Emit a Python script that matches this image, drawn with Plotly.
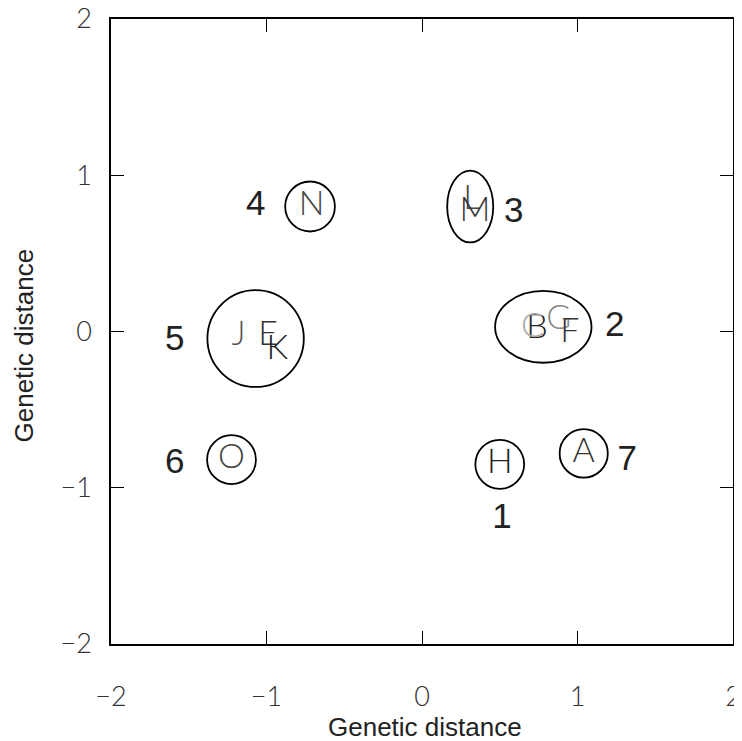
import plotly.graph_objects as go

# individuals (letters) in genetic-distance space
letters = ["J", "E", "K", "N", "L", "M", "B", "C", "G", "F", "H", "A", "O"]
letter_x = [-1.18, -0.99, -0.93, -0.71, 0.32, 0.34, 0.74, 0.71, 0.88, 0.95, 0.50, 1.04, -1.225]
letter_y = [-0.03, -0.03, -0.12, 0.80, 0.84, 0.76, 0.01, 0.02, 0.07, -0.01, -0.85, -0.78, -0.82]
letter_color = ["#555", "#333", "#222", "#444", "#444", "#333", "#222", "#aaa", "#888", "#333", "#222", "#333", "#444"]

# group ellipses: centre and radii
group_cx = [-1.07, -0.72, 0.31, 0.78, 0.50, 1.04, -1.225]
group_cy = [-0.045, 0.80, 0.80, 0.03, -0.85, -0.78, -0.82]
group_rx = [0.31, 0.16, 0.148, 0.31, 0.157, 0.155, 0.157]
group_ry = [0.31, 0.16, 0.23, 0.23, 0.157, 0.155, 0.157]

# group number labels
group_labels = ["5", "4", "3", "2", "1", "7", "6"]
label_x = [-1.59, -1.07, 0.59, 1.24, 0.515, 1.32, -1.59]
label_y = [-0.06, 0.80, 0.76, 0.03, -1.20, -0.83, -0.85]

tick_vals = [-2, -1, 0, 1, 2]
axis_title = "Genetic distance"

fig = go.Figure()

fig.add_trace(go.Scatter(
    x=letter_x, y=letter_y, mode="text", text=letters,
    textfont=dict(family="Lato", size=34, weight=300, color=letter_color),
    hoverinfo="skip", showlegend=False))

fig.add_trace(go.Scatter(
    x=label_x, y=label_y, mode="text", text=group_labels,
    textfont=dict(family="Liberation Sans, Arial", size=35, color="#222"),
    hoverinfo="skip", showlegend=False))

for cx, cy, rx, ry in zip(group_cx, group_cy, group_rx, group_ry):
    fig.add_shape(type="circle", xref="x", yref="y",
                  x0=cx - rx, x1=cx + rx, y0=cy - ry, y1=cy + ry,
                  line=dict(color="black", width=1.8))

axis_common = dict(
    range=[-2, 2], tickvals=tick_vals, ticks="inside", ticklen=13, tickwidth=1.2,
    tickcolor="black", showline=True, linecolor="black", linewidth=1.5, mirror="ticks",
    showgrid=False, zeroline=False, automargin=False, ticklabeloverflow="allow",
    tickfont=dict(family="Lato", size=27, weight=300, color="#333"),
)

fig.update_xaxes(**axis_common, ticklabelstandoff=28)
fig.update_yaxes(**axis_common, ticklabelstandoff=12)

title_font = dict(family="Liberation Sans, Arial", size=26, color="#222")
fig.add_annotation(text=axis_title, xref="paper", yref="paper", x=0.5, y=0,
                   xanchor="center", yanchor="middle", xshift=3, yshift=-83,
                   showarrow=False, font=title_font)
fig.add_annotation(text=axis_title, xref="paper", yref="paper", x=0, y=0.5,
                   xanchor="center", yanchor="middle", xshift=-88, yshift=-14,
                   textangle=-90, showarrow=False, font=title_font)

fig.update_layout(
    width=734, height=733,
    margin=dict(l=103, r=9, t=11, b=97),
    plot_bgcolor="white", paper_bgcolor="white",
)

fig.write_html("out.html")
